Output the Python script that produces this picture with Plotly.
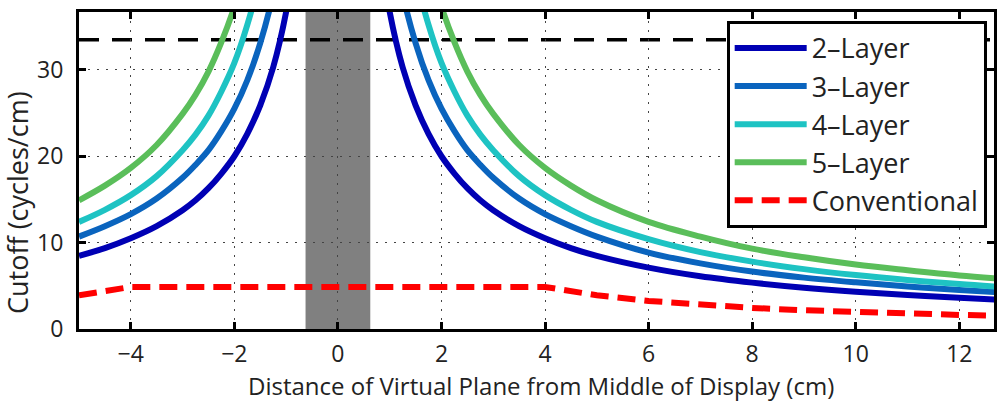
import plotly.graph_objects as go

# distance (cm) from the middle of the display; curves are mirrored on both sides
dist = [0.75, 1.0, 1.25, 1.5, 1.75, 2.0, 2.25, 2.5, 2.75, 3.0, 3.5, 4.0, 4.5, 5.0,
        6.0, 7.0, 8.0, 9.0, 10.0, 11.0, 12.0, 12.7]
layer2 = [46.3, 36.7, 30.3, 25.9, 22.6, 20.0, 18.0, 16.3, 14.9, 13.75, 11.9, 10.5, 9.36, 8.46,
          7.1, 6.1, 5.37, 4.78, 4.31, 3.93, 3.61, 3.41]
layer3 = [59.6, 47.0, 38.8, 33.1, 28.8, 25.5, 22.9, 20.7, 19.0, 17.5, 15.1, 13.3, 11.9, 10.7,
          8.85, 7.6, 6.65, 5.95, 5.4, 4.92, 4.52, 4.28]
layer4 = [80.3, 60.8, 48.9, 40.9, 35.2, 30.8, 27.5, 24.7, 22.5, 20.7, 17.7, 15.5, 13.8, 12.4,
          10.4, 8.9, 7.8, 6.93, 6.24, 5.68, 5.2, 4.92]
layer5 = [99.5, 74.6, 59.7, 49.7, 42.6, 37.3, 33.2, 29.8, 27.1, 24.9, 21.3, 18.65, 16.6, 14.9,
          12.4, 10.7, 9.3, 8.3, 7.46, 6.8, 6.2, 5.87]

conv_x = [-5.0, -4.5, -4.0, 4.0, 4.5, 5.0, 6.0, 7.0, 8.0, 9.0, 10.0, 11.0, 12.0, 12.7]
conv_y = [3.9, 4.33, 4.87, 4.87, 4.33, 3.9, 3.25, 2.79, 2.44, 2.17, 1.95, 1.77, 1.63, 1.54]

limit_level = 33.5          # black dashed line
display_half = 0.625        # gray band (display thickness)
x_range = [-5.0, 12.67]
y_range = [0, 36.7]
x_ticks = [-4, -2, 0, 2, 4, 6, 8, 10, 12]
y_ticks = [0, 10, 20, 30]
left_limit = 5.0

names = ["2\u2013Layer", "3\u2013Layer", "4\u2013Layer", "5\u2013Layer"]
colors = ["#0000B4", "#0A64BE", "#1EC3C3", "#5ABE5A"]
series = [layer2, layer3, layer4, layer5]

FONT = "Open Sans"
TXT = "#222222"
fig = go.Figure()

for nm, col, vals in zip(names, colors, series):
    lx = [-d for d in dist if d <= left_limit]
    ly = [v for d, v in zip(dist, vals) if d <= left_limit]
    fig.add_trace(go.Scatter(x=lx, y=ly, mode="lines", name=nm,
                             line=dict(color=col, width=6, shape="spline"),
                             legendgroup=nm, showlegend=False))
    fig.add_trace(go.Scatter(x=dist, y=vals, mode="lines", name=nm,
                             line=dict(color=col, width=6, shape="spline"),
                             legendgroup=nm, showlegend=True))

fig.add_trace(go.Scatter(x=conv_x, y=conv_y, mode="lines", name="Conventional",
                         line=dict(color="#FF0000", width=6, dash="18px,9px"),
                         legendgroup="conv"))

fig.add_shape(type="rect", xref="x", yref="paper", x0=-display_half, x1=display_half,
              y0=0, y1=1, fillcolor="#808080", line=dict(width=0), layer="below")
fig.add_shape(type="line", xref="paper", yref="y", x0=0, x1=1,
              y0=limit_level, y1=limit_level,
              line=dict(color="black", width=3.5, dash="20px,13px"), layer="below")

axis_common = dict(showline=True, linecolor="black", linewidth=3, mirror="ticks",
                   ticks="inside", ticklen=7, tickwidth=2.5, tickcolor="black",
                   showgrid=True, gridcolor="#444444", gridwidth=1, griddash="2px,7px",
                   zeroline=False, tickfont=dict(family=FONT, size=23, color=TXT))

fig.update_xaxes(range=x_range, tickvals=x_ticks,
                 ticktext=[str(t).replace("-", "\u2212") for t in x_ticks],
                 ticklabelstandoff=2, **axis_common)
fig.update_yaxes(range=y_range, tickvals=y_ticks, ticklabelstandoff=8, **axis_common)

fig.add_annotation(text="Distance of Virtual Plane from Middle of Display (cm)",
                   xref="paper", yref="paper", x=0.505, y=-0.178, showarrow=False,
                   xanchor="center", yanchor="middle",
                   font=dict(family=FONT, size=24, color=TXT))
fig.add_annotation(text="Cutoff (cycles/cm)", textangle=-90,
                   xref="paper", yref="paper", x=-0.068, y=0.40, showarrow=False,
                   xanchor="center", yanchor="middle",
                   font=dict(family=FONT, size=27, color=TXT))

fig.update_layout(
    width=1002, height=401,
    margin=dict(l=79, r=5, t=12, b=72),
    plot_bgcolor="white", paper_bgcolor="white",
    legend=dict(x=0.992, y=0.972, xanchor="right", yanchor="top",
                bgcolor="white", bordercolor="black", borderwidth=3,
                font=dict(family=FONT, size=27, color=TXT),
                itemwidth=72, tracegroupgap=0, traceorder="grouped"),
)

fig.write_html("out.html")
